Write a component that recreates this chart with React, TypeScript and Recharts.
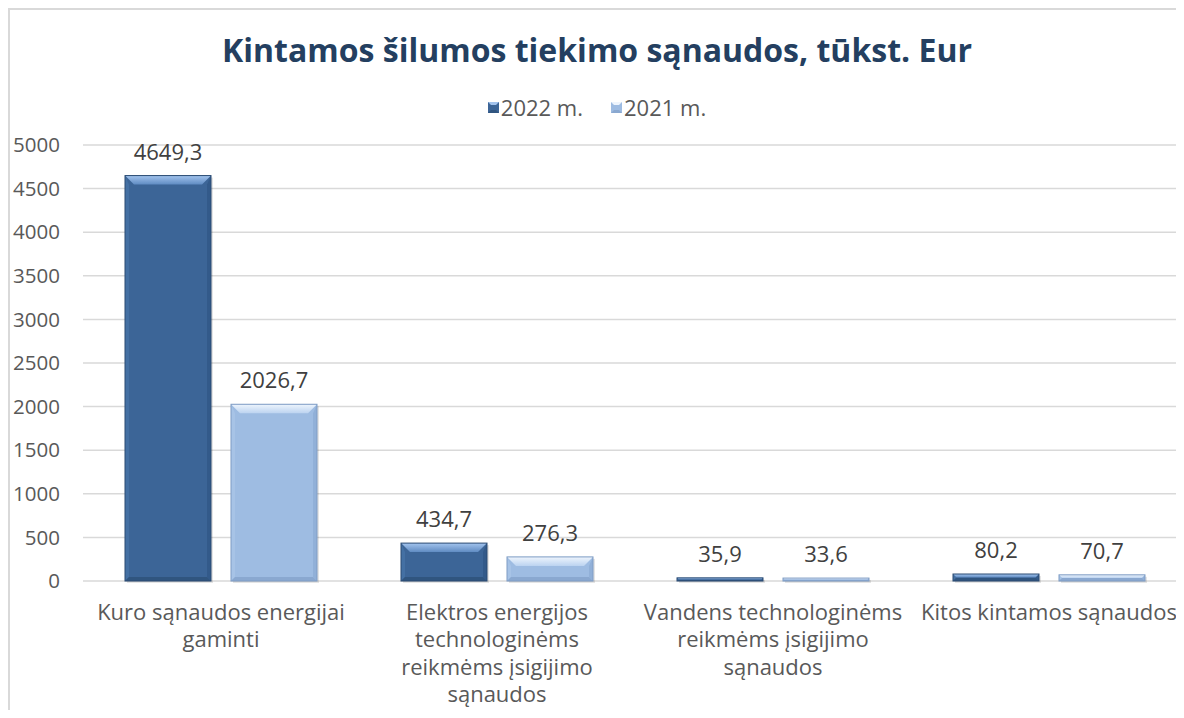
import { BarChart, Bar, XAxis, YAxis, CartesianGrid, LabelList } from 'recharts';

const categories = [
  'Kuro sąnaudos energijai gaminti',
  'Elektros energijos technologinėms reikmėms įsigijimo sąnaudos',
  'Vandens technologinėms reikmėms įsigijimo sąnaudos',
  'Kitos kintamos sąnaudos',
];
const categoryLines = [
  ['Kuro sąnaudos energijai', 'gaminti'],
  ['Elektros energijos', 'technologinėms', 'reikmėms įsigijimo', 'sąnaudos'],
  ['Vandens technologinėms', 'reikmėms įsigijimo', 'sąnaudos'],
  ['Kitos kintamos sąnaudos'],
];
const values2022 = [4649.3, 434.7, 35.9, 80.2];
const values2021 = [2026.7, 276.3, 33.6, 70.7];
const yTicks = [0, 500, 1000, 1500, 2000, 2500, 3000, 3500, 4000, 4500, 5000];
const seriesNames = ['2022 m.', '2021 m.'];

const data = categories.map((name, i) => ({
  name,
  lines: categoryLines[i],
  y2022: values2022[i],
  y2021: values2021[i],
}));

const FONT = '"Open Sans", sans-serif';
const DARK = { id: 'dk', base: '#3c6597', topA: '#a3c4ee', topB: '#5f8bc2', left: '#4470a3', right: '#335a8a', bottom: '#30557f', edge: '#2a4a72' };
const LIGHT = { id: 'lt', base: '#9ebce2', topA: '#eef5fd', topB: '#bcd3f0', left: '#a7c3e6', right: '#91b0d8', bottom: '#8aa8d0', edge: '#7f9cc4' };

const fmt = (v: number) => v.toFixed(1).replace('.', ',');

function bevelShape(c: typeof DARK) {
  return (props: any) => {
    const { x, y, width, height } = props;
    if (!height || height <= 0) return <g />;
    const b = Math.min(9, height / 2, width / 2);
    const s = Math.min(4, height / 2);
    const r = x + width;
    const bt = y + height;
    return (
      <g>
        <rect x={x + 2} y={y + 2} width={width} height={height} fill="#000" opacity={0.1} />
        <rect x={x} y={y} width={width} height={height} fill={c.base} />
        <polygon points={`${x},${y} ${x + s},${y + b} ${x + s},${bt - s} ${x},${bt}`} fill={c.left} />
        <polygon points={`${r},${y} ${r},${bt} ${r - s},${bt - s} ${r - s},${y + b}`} fill={c.right} />
        <polygon points={`${x},${bt} ${x + s},${bt - s} ${r - s},${bt - s} ${r},${bt}`} fill={c.bottom} />
        <polygon points={`${x},${y} ${r},${y} ${r - b},${y + b} ${x + b},${y + b}`} fill={`url(#top-${c.id})`} />
        <rect x={x} y={y} width={width} height={height} fill="none" stroke={c.edge} strokeWidth={1} />
      </g>
    );
  };
}

const CategoryTick = (props: any) => {
  const { x, y, index } = props;
  const lines: string[] = data[index]?.lines ?? [];
  return (
    <g>
      {lines.map((line, i) => (
        <text
          key={i}
          x={x}
          y={y + 23 + i * 27.5}
          dy="0.35em"
          textAnchor="middle"
          fontFamily={FONT}
          fontSize={22}
          fill="#595959"
        >
          {line}
        </text>
      ))}
    </g>
  );
};

const ValueTick = (props: any) => {
  const { x, y, payload } = props;
  return (
    <text x={x - 15} y={y} dy="0.35em" textAnchor="end" fontFamily={FONT} fontSize={20.5} fill="#595959">
      {payload.value}
    </text>
  );
};

function LegendSwatch({ c }: { c: typeof DARK }) {
  return (
    <svg width={11} height={11} style={{ marginRight: 2 }}>
      <rect x={0} y={0} width={11} height={11} fill={c.base} />
      <polygon points="0,0 11,0 8,3 3,3" fill={c.topA} />
      <polygon points="0,11 3,8 8,8 11,11" fill={c.bottom} />
    </svg>
  );
}

export default function App() {
  return (
    <div
      style={{
        position: 'relative',
        width: 1174,
        height: 708,
        marginBottom: -8,
        borderLeft: '2px solid #d9d9d9',
        borderTop: '2px solid #d9d9d9',
        overflow: 'hidden',
        background: '#fff',
      }}
    >
      <div
        style={{
          position: 'absolute',
          top: 18,
          left: 0,
          width: 1174,
          textAlign: 'center',
          fontFamily: FONT,
          fontWeight: 700,
          fontSize: 32,
          color: '#243f60',
        }}
      >
        Kintamos šilumos tiekimo sąnaudos, tūkst. Eur
      </div>
      <div
        style={{
          position: 'absolute',
          top: 82,
          left: 0,
          width: 1174,
          display: 'flex',
          justifyContent: 'center',
          alignItems: 'center',
          gap: 28,
          fontFamily: FONT,
          fontSize: 22,
          color: '#595959',
        }}
      >
        <span style={{ display: 'flex', alignItems: 'center' }}>
          <LegendSwatch c={DARK} />
          {seriesNames[0]}
        </span>
        <span style={{ display: 'flex', alignItems: 'center' }}>
          <LegendSwatch c={LIGHT} />
          {seriesNames[1]}
        </span>
      </div>
      <BarChart
        width={1180}
        height={708}
        data={data}
        margin={{ top: 135, right: 3, left: 0, bottom: 0 }}
        barCategoryGap={42}
        barGap={20}
      >
        <defs>
          {[DARK, LIGHT].map((c) => (
            <linearGradient key={c.id} id={`top-${c.id}`} x1="0" y1="0" x2="0" y2="1">
              <stop offset="0%" stopColor={c.topA} />
              <stop offset="100%" stopColor={c.topB} />
            </linearGradient>
          ))}
        </defs>
        <CartesianGrid vertical={false} stroke="#d9d9d9" strokeWidth={1.5} />
        <XAxis
          dataKey="name"
          axisLine={false}
          tickLine={false}
          interval={0}
          height={137}
          tick={<CategoryTick />}
        />
        <YAxis
          width={73}
          domain={[0, 5000]}
          ticks={yTicks}
          axisLine={false}
          tickLine={false}
          tick={<ValueTick />}
        />
        <Bar dataKey="y2022" name={seriesNames[0]} isAnimationActive={false} shape={bevelShape(DARK)}>
          <LabelList
            dataKey="y2022"
            position="top"
            offset={16}
            formatter={(v: any) => fmt(Number(v))}
            style={{ fontFamily: FONT, fontSize: 22, fill: '#404040' }}
          />
        </Bar>
        <Bar dataKey="y2021" name={seriesNames[1]} isAnimationActive={false} shape={bevelShape(LIGHT)}>
          <LabelList
            dataKey="y2021"
            position="top"
            offset={16}
            formatter={(v: any) => fmt(Number(v))}
            style={{ fontFamily: FONT, fontSize: 22, fill: '#404040' }}
          />
        </Bar>
      </BarChart>
    </div>
  );
}
